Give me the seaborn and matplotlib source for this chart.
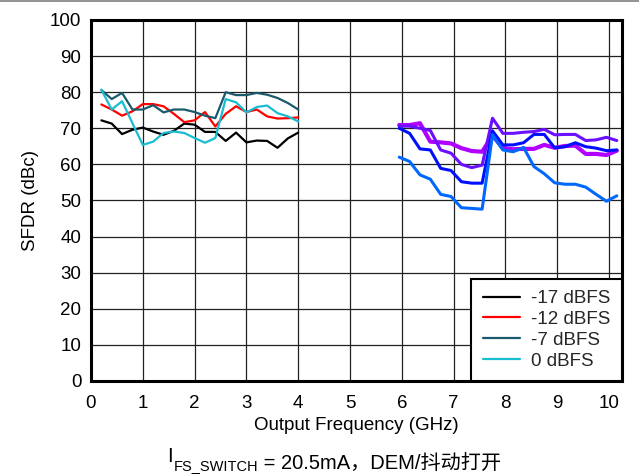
import numpy as np
import pandas as pd
import matplotlib
matplotlib.use("Agg")
import matplotlib.pyplot as plt
import seaborn as sns
from matplotlib.lines import Line2D

# ---------- 数据 ----------
# 左侧 0.2 - 4 GHz
x_left = [0.2, 0.4, 0.6, 0.8, 1.0, 1.2, 1.4, 1.6, 1.8, 2.0,
          2.2, 2.4, 2.6, 2.8, 3.0, 3.2, 3.4, 3.6, 3.8, 4.0]
sfdr_m17 = [72.2, 71.3, 68.4, 69.6, 70.2, 69.1, 68.2, 69.3, 71.3, 71.0,
            69.0, 69.0, 66.5, 68.8, 66.1, 66.6, 66.5, 64.6, 67.2, 68.8]
sfdr_m12 = [76.6, 75.2, 73.5, 74.7, 76.7, 76.7, 76.1, 74.0, 71.7, 72.2,
            74.5, 70.5, 74.0, 76.1, 74.5, 75.2, 73.3, 72.7, 72.8, 73.0]
sfdr_m7 = [80.6, 78.1, 79.8, 75.2, 75.2, 76.4, 74.4, 75.2, 75.2, 74.5,
           73.5, 72.8, 80.0, 79.2, 79.2, 79.8, 79.3, 78.4, 77.0, 75.2]
sfdr_0 = [80.7, 75.2, 77.5, 71.4, 65.4, 66.3, 68.7, 69.1, 68.7, 67.3,
          66.0, 67.3, 78.1, 77.2, 74.4, 75.9, 76.3, 74.2, 73.3, 71.9]

# 右侧 6 - 10 GHz（无图例）
x_right = [5.95, 6.15, 6.35, 6.55, 6.75, 6.95, 7.15, 7.35, 7.55, 7.75, 7.95,
           8.15, 8.35, 8.55, 8.75, 8.95, 9.15, 9.35, 9.55, 9.75, 9.95, 10.15]
hi_blue = [62.0, 60.8, 57.1, 55.9, 51.7, 51.1, 48.0, 47.8, 47.6, 68.2, 64.0,
           63.5, 64.7, 59.4, 57.4, 54.9, 54.5, 54.5, 53.7, 51.7, 49.8, 51.3]
hi_navy = [70.0, 68.6, 64.3, 64.0, 58.9, 58.3, 55.2, 54.8, 54.8, 69.3, 65.4,
           65.4, 66.0, 68.3, 68.3, 64.6, 64.9, 66.0, 64.9, 64.5, 63.8, 64.0]
hi_violet = [70.6, 70.6, 70.0, 69.4, 64.0, 63.1, 60.0, 59.1, 59.8, 72.8, 68.6,
             68.6, 68.9, 69.1, 69.7, 68.2, 68.3, 68.3, 66.6, 66.8, 67.5, 66.6]
hi_purple = [70.9, 70.9, 71.4, 66.3, 66.1, 65.8, 64.5, 63.7, 63.5, 68.0, 64.5,
             64.2, 64.3, 64.3, 65.4, 64.6, 65.1, 65.2, 62.9, 62.9, 62.6, 63.8]

legend_labels = ['-17 dBFS', '-12 dBFS', '-7 dBFS', '0 dBFS']
x_ticks = [0, 1, 2, 3, 4, 5, 6, 7, 8, 9, 10]
y_ticks = [0, 10, 20, 30, 40, 50, 60, 70, 80, 90, 100]

# ---------- 样式 ----------
sns.set_theme(style='white')
plt.rcParams['font.family'] = ['Liberation Sans', 'Noto Sans CJK SC']
plt.rcParams['axes.unicode_minus'] = False
FS = 13.5

fig = plt.figure(figsize=(6.39, 4.76), dpi=100)
ax = fig.add_axes([0.1424, 0.1996, 0.831, 0.7584])

left_df = pd.DataFrame({'x': x_left, '-17': sfdr_m17, '-12': sfdr_m12,
                        '-7': sfdr_m7, '0': sfdr_0})
left_colors = ['#000000', '#ff0000', '#195a6c', '#18bdd0']
for col, c, lab in zip(['-17', '-12', '-7', '0'], left_colors, legend_labels):
    sns.lineplot(data=left_df, x='x', y=col, color=c, linewidth=1.6,
                 label=lab, ax=ax)

right_df = pd.DataFrame({'x': x_right, 'a': hi_blue, 'b': hi_navy,
                         'c': hi_violet, 'd': hi_purple})
for col, c, lw in [('d', '#b000ff', 3.0), ('c', '#6a10ff', 2.2),
                   ('b', '#0010ff', 2.2), ('a', '#0068ff', 2.2)]:
    sns.lineplot(data=right_df, x='x', y=col, color=c, linewidth=lw,
                 label='_nolegend_', ax=ax)

ax.set_xlim(0, 10.25)
ax.set_ylim(0, 100)
ax.set_xticks(x_ticks)
ax.set_yticks(y_ticks)
ax.grid(True, color='#222222', linewidth=0.9)
ax.set_axisbelow(True)
ax.tick_params(axis='x', length=0, labelsize=FS, colors='black', pad=10)
ax.tick_params(axis='y', length=0, labelsize=FS, colors='black', pad=7)
for s in ax.spines.values():
    s.set_color('black')
    s.set_linewidth(2.2)
ax.set_xlabel('Output Frequency (GHz)', fontsize=FS, labelpad=4, color='black')
ax.set_ylabel('SFDR (dBc)', fontsize=FS, labelpad=8, color='black')

leg = ax.legend(loc='lower right', borderaxespad=0, fancybox=False,
                framealpha=1, edgecolor='black', fontsize=FS,
                handlelength=2.0, borderpad=0.6, labelspacing=0.2,
                handletextpad=0.6)
leg.get_frame().set_linewidth(1.5)

# ---------- 底部说明 ----------
t1 = fig.text(0.262, 0.03, 'I', fontsize=14.5, color='black')
t2 = ax.annotate('FS_SWITCH', xy=(1, 0), xycoords=t1, xytext=(0.5, -3),
                 textcoords='offset points', fontsize=10.5, color='black',
                 va='baseline', annotation_clip=False)
ax.annotate(' = 20.5mA，DEM/抖动打开', xy=(1, 0), xycoords=t2,
            xytext=(0, 3), textcoords='offset points', fontsize=14.5,
            color='black', va='baseline', annotation_clip=False)

fig.add_artist(Line2D([0, 1], [0.997, 0.997], color='#808080', linewidth=1.2))

fig.savefig('out.png', dpi=100)
